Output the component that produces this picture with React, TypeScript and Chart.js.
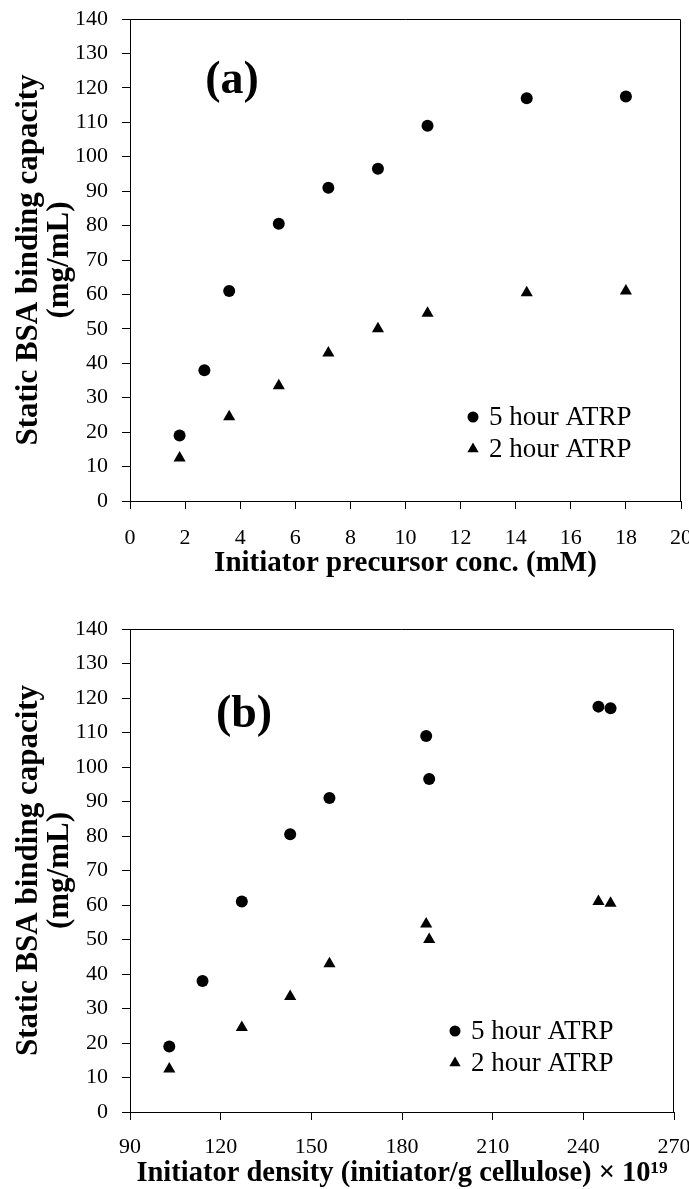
import React, { useEffect, useRef } from 'react';
import { Chart, registerables } from 'chart.js';

Chart.register(...registerables);

const SERIF = '"Liberation Serif", "Times New Roman", Times, serif';

// Panel (a): initiator precursor concentration (mM)
const conc5h = [1.8, 2.7, 3.6, 5.4, 7.2, 9.0, 10.8, 14.4, 18.0];
const conc2h = [1.8, 3.6, 5.4, 7.2, 9.0, 10.8, 14.4, 18.0];
// Panel (b): initiator density (initiator/g cellulose) x 10^19
const density5h = [103, 114, 127, 143, 156, 189, 188, 249, 245];
const density2h = [103, 127, 143, 156, 189, 188, 249, 245];
// Static BSA binding capacity (mg/mL)
const capacity5h = [19, 38, 61, 80.5, 91, 96.5, 109, 117, 117.5];
const capacity2h = [12.5, 24.5, 33.5, 43, 50, 54.5, 60.5, 61];

const seriesLabels = ['5 hour ATRP', '2 hour ATRP'];
const yTitle = ['Static BSA binding capacity', '(mg/mL)'];
const xTitleA = 'Initiator precursor conc. (mM)';
const xTitleB = 'Initiator density (initiator/g cellulose) \u00d7 10\u00b9\u2079';
const panelLabels = ['(a)', '(b)'];

function pts(xs: number[], ys: number[]) {
  return xs.map((x, i) => ({ x, y: ys[i] }));
}

const decorPlugin = {
  id: 'decor',
  afterDraw(chart: any, _args: any, opts: any) {
    const { ctx, chartArea: ca } = chart;
    ctx.save();
    // box top & right
    ctx.strokeStyle = '#000';
    ctx.lineWidth = 1;
    ctx.beginPath();
    ctx.moveTo(ca.left, Math.round(ca.top) + 0.5);
    ctx.lineTo(Math.round(ca.right) - 0.5, Math.round(ca.top) + 0.5);
    ctx.lineTo(Math.round(ca.right) - 0.5, ca.bottom);
    ctx.stroke();
    // panel label
    ctx.fillStyle = '#000';
    ctx.font = `bold 46px ${SERIF}`;
    ctx.textAlign = 'center';
    ctx.textBaseline = 'middle';
    ctx.fillText(opts.panel, ca.left + opts.panelDx, ca.top + opts.panelDy);
    // legend
    ctx.font = `27px ${SERIF}`;
    ctx.textAlign = 'left';
    chart.data.datasets.forEach((ds: any, i: number) => {
      const mx = ca.right - opts.legendDx;
      const my = ca.bottom - opts.legendDy + i * opts.legendGap;
      ctx.beginPath();
      if (ds.pointStyle === 'triangle') {
        const r = 6.5;
        ctx.moveTo(mx, my - r);
        ctx.lineTo(mx + r * 0.866, my + r * 0.5);
        ctx.lineTo(mx - r * 0.866, my + r * 0.5);
        ctx.closePath();
      } else {
        ctx.arc(mx, my, 5.5, 0, Math.PI * 2);
      }
      ctx.fill();
      ctx.fillText(ds.label, mx + opts.textGap, my + 1);
    });
    ctx.restore();
  },
};

function buildConfig(p: {
  xs5: number[];
  xs2: number[];
  xMin: number;
  xMax: number;
  xStep: number;
  xTitle: string;
  xTitleSize: number;
  xHeight: number;
  xTitlePad: number;
  xTickPad: number;
  top: number;
  right: number;
  panel: string;
  panelDx: number;
  panelDy: number;
  legendDx: number;
  legendDy: number;
  textGap: number;
}) {
  const tickFont = { family: SERIF, size: 22 };
  const yTitleFont = { family: SERIF, size: 31, weight: 'bold' as const, lineHeight: 1 };
  const xTitleFont = { family: SERIF, size: p.xTitleSize, weight: 'bold' as const, lineHeight: 1 };
  return {
    type: 'scatter' as const,
    data: {
      datasets: [
        {
          label: seriesLabels[0],
          data: pts(p.xs5, capacity5h),
          pointStyle: 'circle',
          pointRadius: 6,
          pointBorderWidth: 0,
          backgroundColor: '#000',
          borderColor: '#000',
          showLine: false,
        },
        {
          label: seriesLabels[1],
          data: pts(p.xs2, capacity2h),
          pointStyle: 'triangle',
          pointRadius: 7,
          pointBorderWidth: 0,
          backgroundColor: '#000',
          borderColor: '#000',
          showLine: false,
        },
      ],
    },
    options: {
      animation: false,
      responsive: false,
      layout: { padding: { top: p.top, right: p.right, left: 0, bottom: 0 } },
      plugins: {
        legend: { display: false },
        tooltip: { enabled: false },
        decor: {
          panel: p.panel,
          panelDx: p.panelDx,
          panelDy: p.panelDy,
          legendDx: p.legendDx,
          legendDy: p.legendDy,
          legendGap: 32,
          textGap: p.textGap,
        },
      },
      scales: {
        x: {
          type: 'linear',
          position: 'bottom',
          min: p.xMin,
          max: p.xMax,
          ticks: { stepSize: p.xStep, font: tickFont, color: '#000', padding: p.xTickPad, maxRotation: 0 },
          grid: { drawOnChartArea: false, drawTicks: true, tickLength: 8, color: '#000' },
          border: { display: true, color: '#000', width: 1 },
          title: { display: true, text: p.xTitle, font: xTitleFont, color: '#000', padding: { top: 0, bottom: p.xTitlePad } },
          afterFit(scale: any) {
            scale.height = p.xHeight;
            scale.paddingLeft = 0;
            scale.paddingRight = 0;
          },
        },
        y: {
          type: 'linear',
          position: 'left',
          min: 0,
          max: 140,
          ticks: { stepSize: 10, font: tickFont, color: '#000', padding: 14 },
          grid: { drawOnChartArea: false, drawTicks: true, tickLength: 8, color: '#000' },
          border: { display: true, color: '#000', width: 1 },
          title: { display: true, text: yTitle, font: yTitleFont, color: '#000', padding: { top: 13, bottom: 0 } },
          afterFit(scale: any) {
            scale.width = 130;
            scale.paddingTop = 0;
            scale.paddingBottom = 0;
          },
        },
      },
    },
    plugins: [decorPlugin],
  };
}

function Panel({ width, height, config }: { width: number; height: number; config: any }) {
  const ref = useRef<HTMLCanvasElement | null>(null);
  useEffect(() => {
    if (!ref.current) return;
    const chart = new Chart(ref.current, config);
    return () => chart.destroy();
  }, [config]);
  return <canvas ref={ref} width={width} height={height} style={{ display: 'block', width, height }} />;
}

const configA = buildConfig({
  xs5: conc5h,
  xs2: conc2h,
  xMin: 0,
  xMax: 20,
  xStep: 2,
  xTitle: xTitleA,
  xTitleSize: 29,
  xHeight: 99,
  xTitlePad: 22,
  xTickPad: 16,
  top: 19,
  right: 8,
  panel: panelLabels[0],
  panelDx: 102,
  panelDy: 62,
  legendDx: 208,
  legendDy: 84,
  textGap: 16,
});

const configB = buildConfig({
  xs5: density5h,
  xs2: density2h,
  xMin: 90,
  xMax: 270,
  xStep: 30,
  xTitle: xTitleB,
  xTitleSize: 28.5,
  xHeight: 77,
  xTitlePad: 1,
  xTickPad: 14,
  top: 29,
  right: 15,
  panel: panelLabels[1],
  panelDx: 114,
  panelDy: 86,
  legendDx: 219,
  legendDy: 81,
  textGap: 16,
});

export default function App() {
  return (
    <div style={{ position: 'fixed', left: 0, top: 0, width: 689, height: 1189, background: '#fff', overflow: 'hidden' }}>
      <Panel width={689} height={600} config={configA} />
      <Panel width={689} height={589} config={configB} />
    </div>
  );
}
